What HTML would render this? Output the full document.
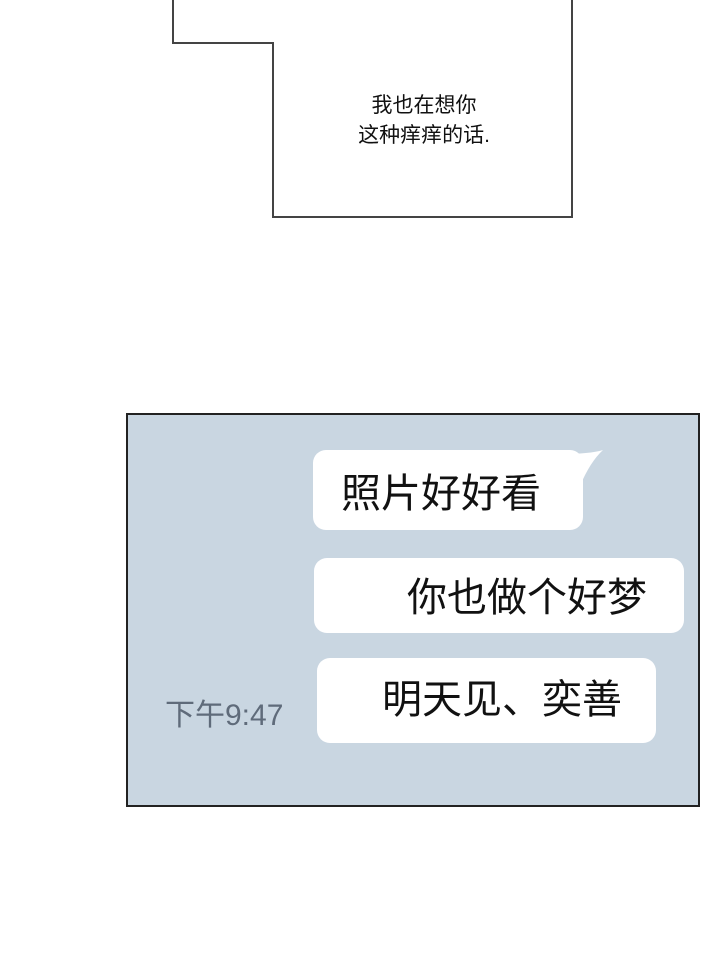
<!DOCTYPE html>
<html><head><meta charset="utf-8"><style>
body{margin:0;width:720px;height:980px;background:#fff;position:relative;overflow:hidden;font-family:"Liberation Sans","Noto Sans CJK SC",sans-serif;}
.a{position:absolute;}
.line{position:absolute;background:#444;}
.box{position:absolute;left:126px;top:413px;width:570px;height:390px;border:2px solid #222;background:#c9d6e1;}
.b{position:absolute;background:#fff;border-radius:13px;}
.t{position:absolute;font-size:40px;color:#111;white-space:nowrap;line-height:1;}
</style></head><body>
<div class="line" style="left:172px;top:0;width:2px;height:44px"></div>
<div class="line" style="left:172px;top:42px;width:102px;height:2px"></div>
<div class="line" style="left:272px;top:42px;width:2px;height:176px"></div>
<div class="line" style="left:272px;top:216px;width:301px;height:2px"></div>
<div class="line" style="left:571px;top:0;width:2px;height:218px"></div>
<div class="a" style="left:324px;top:91px;width:200px;text-align:center;font-size:21px;line-height:30px;color:#111">我也在想你<br>这种痒痒的话.</div>
<div class="box"></div>
<svg class="a" style="left:560px;top:448px" width="50" height="40"><path d="M0 6 Q30 6 43 2 Q30 14 20 38 L0 38Z" fill="#fff"/></svg>
<div class="b" style="left:313px;top:450px;width:270px;height:80px"></div>
<div class="t" style="left:341px;top:474px">照片好好看</div>
<div class="b" style="left:314px;top:558px;width:370px;height:75px"></div>
<div class="t" style="left:407px;top:578px">你也做个好梦</div>
<div class="b" style="left:317px;top:658px;width:339px;height:85px"></div>
<div class="t" style="left:382px;top:680px">明天见、奕善</div>
<div class="a" style="left:165px;top:701px;font-size:30px;color:#5f6b7a;white-space:nowrap;line-height:1">下午9:47</div>
</body></html>
